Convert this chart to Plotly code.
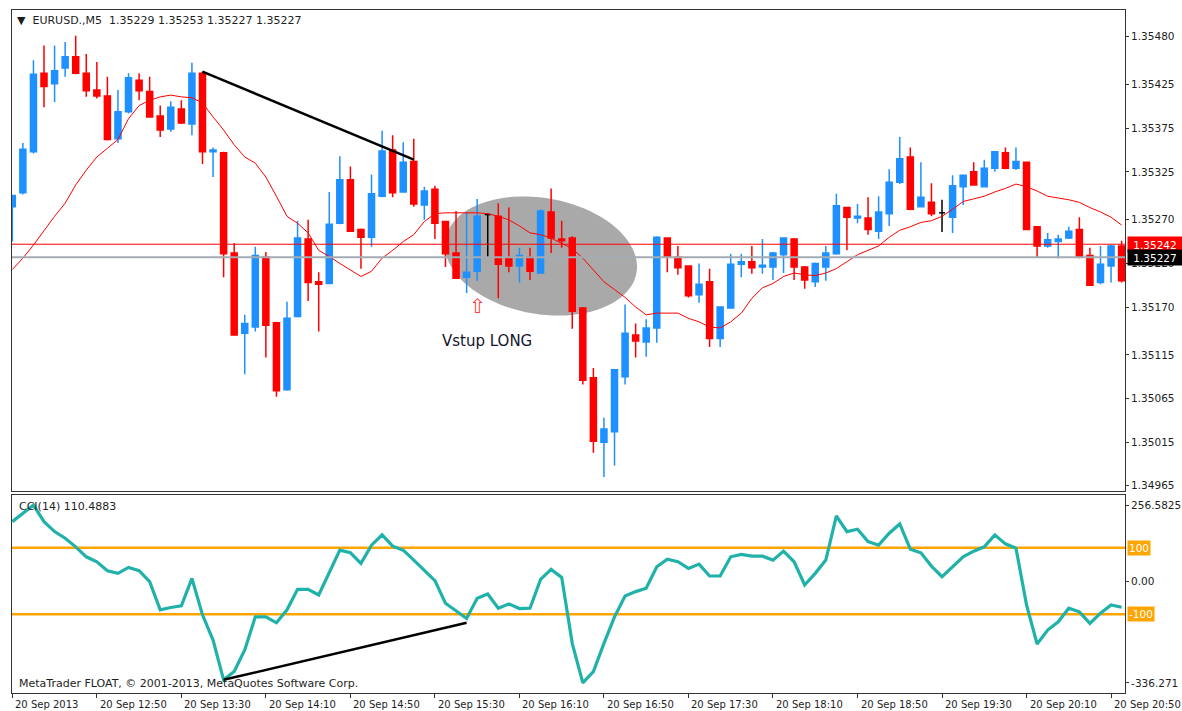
import numpy as np
import plotly.graph_objects as go

# ---------------- data (EURUSD M5, 20 Sep 2013, 12:10 .. 20:55) ----------------
bar_no = list(range(106))

open_ = [1.35285, 1.35301, 1.35348, 1.35438, 1.35426, 1.35444, 1.35457, 1.35438, 1.35419, 1.35412,
         1.35363, 1.35394, 1.35430, 1.35417, 1.35389, 1.35374, 1.35397, 1.35380, 1.35438, 1.35348,
         1.35347, 1.35232, 1.35140, 1.35147, 1.35227, 1.35152, 1.35075, 1.35159, 1.35248, 1.35199,
         1.35197, 1.35266, 1.35316, 1.35259, 1.35250, 1.35297, 1.35350, 1.35302, 1.35337, 1.35287,
         1.35305, 1.35268, 1.35232, 1.35204, 1.35211, 1.35276, 1.35274, 1.35226, 1.35217, 1.35227,
         1.35209, 1.35279, 1.35248, 1.35249, 1.35169, 1.35089, 1.35015, 1.35027, 1.35090, 1.35138,
         1.35130, 1.35146, 1.35249, 1.35227, 1.35217, 1.35184, 1.35199, 1.35134, 1.35169, 1.35219,
         1.35222, 1.35216, 1.35216, 1.35230, 1.35248, 1.35216, 1.35199, 1.35216, 1.35231, 1.35284,
         1.35272, 1.35272, 1.35257, 1.35277, 1.35313, 1.35342, 1.35285, 1.35290, 1.35278, 1.35273,
         1.35308, 1.35325, 1.35308, 1.35329, 1.35347, 1.35329, 1.35336, 1.35262, 1.35240, 1.35245,
         1.35249, 1.35259, 1.35229, 1.35198, 1.35217, 1.35240]
high = [1.35298, 1.35358, 1.35453, 1.35470, 1.35470, 1.35474, 1.35481, 1.35460, 1.35451, 1.35434,
        1.35419, 1.35438, 1.35438, 1.35434, 1.35401, 1.35406, 1.35407, 1.35450, 1.35440, 1.35353,
        1.35348, 1.35243, 1.35161, 1.35239, 1.35233, 1.35153, 1.35176, 1.35269, 1.35270, 1.35210,
        1.35302, 1.35343, 1.35331, 1.35260, 1.35322, 1.35372, 1.35367, 1.35359, 1.35363, 1.35308,
        1.35309, 1.35269, 1.35280, 1.35278, 1.35294, 1.35277, 1.35289, 1.35284, 1.35238, 1.35238,
        1.35282, 1.35306, 1.35269, 1.35251, 1.35170, 1.35100, 1.35043, 1.35099, 1.35173, 1.35151,
        1.35156, 1.35251, 1.35250, 1.35240, 1.35218, 1.35220, 1.35214, 1.35171, 1.35231, 1.35231,
        1.35240, 1.35248, 1.35233, 1.35250, 1.35249, 1.35217, 1.35221, 1.35240, 1.35300, 1.35285,
        1.35288, 1.35296, 1.35297, 1.35328, 1.35365, 1.35353, 1.35336, 1.35312, 1.35293, 1.35321,
        1.35322, 1.35336, 1.35339, 1.35349, 1.35353, 1.35353, 1.35337, 1.35263, 1.35255, 1.35253,
        1.35262, 1.35273, 1.35238, 1.35240, 1.35241, 1.35246]
low = [1.35245, 1.35299, 1.35346, 1.35399, 1.35405, 1.35434, 1.35437, 1.35411, 1.35409, 1.35361,
       1.35358, 1.35392, 1.35407, 1.35387, 1.35365, 1.35371, 1.35380, 1.35367, 1.35334, 1.35319,
       1.35204, 1.35137, 1.35093, 1.35142, 1.35112, 1.35067, 1.35074, 1.35158, 1.35177, 1.35142,
       1.35196, 1.35265, 1.35256, 1.35214, 1.35239, 1.35296, 1.35296, 1.35301, 1.35285, 1.35270,
       1.35248, 1.35216, 1.35202, 1.35186, 1.35200, 1.35227, 1.35180, 1.35210, 1.35198, 1.35201,
       1.35208, 1.35232, 1.35238, 1.35145, 1.35081, 1.35003, 1.34975, 1.34988, 1.35081, 1.35112,
       1.35113, 1.35129, 1.35210, 1.35207, 1.35181, 1.35175, 1.35124, 1.35124, 1.35168, 1.35204,
       1.35208, 1.35208, 1.35201, 1.35209, 1.35201, 1.35191, 1.35193, 1.35200, 1.35230, 1.35235,
       1.35266, 1.35253, 1.35248, 1.35263, 1.35311, 1.35281, 1.35284, 1.35274, 1.35256, 1.35255,
       1.35287, 1.35309, 1.35307, 1.35325, 1.35328, 1.35327, 1.35258, 1.35227, 1.35238, 1.35226,
       1.35248, 1.35226, 1.35194, 1.35196, 1.35198, 1.35198]
close = [1.35298, 1.35351, 1.35437, 1.35423, 1.35441, 1.35457, 1.35438, 1.35418, 1.35412, 1.35362,
         1.35394, 1.35433, 1.35418, 1.35388, 1.35373, 1.35399, 1.35381, 1.35438, 1.35348, 1.35350,
         1.35231, 1.35138, 1.35151, 1.35229, 1.35149, 1.35074, 1.35157, 1.35249, 1.35198, 1.35196,
         1.35265, 1.35316, 1.35257, 1.35250, 1.35300, 1.35349, 1.35301, 1.35336, 1.35288, 1.35303,
         1.35266, 1.35231, 1.35203, 1.35210, 1.35274, 1.35276, 1.35219, 1.35217, 1.35229, 1.35211,
         1.35280, 1.35249, 1.35246, 1.35165, 1.35086, 1.35016, 1.35030, 1.35098, 1.35140, 1.35131,
         1.35146, 1.35250, 1.35227, 1.35215, 1.35183, 1.35196, 1.35134, 1.35170, 1.35219, 1.35222,
         1.35215, 1.35218, 1.35232, 1.35249, 1.35216, 1.35201, 1.35220, 1.35232, 1.35286, 1.35273,
         1.35274, 1.35259, 1.35279, 1.35313, 1.35340, 1.35282, 1.35296, 1.35277, 1.35278, 1.35309,
         1.35321, 1.35310, 1.35329, 1.35348, 1.35329, 1.35337, 1.35259, 1.35240, 1.35247, 1.35248,
         1.35257, 1.35227, 1.35195, 1.35219, 1.35240, 1.35200]

ma = [1.35213, 1.35226, 1.35241, 1.35258, 1.35274, 1.35289, 1.35310, 1.35327, 1.35342, 1.35352,
      1.35362, 1.35386, 1.35401, 1.35407, 1.35411, 1.35413, 1.35411, 1.35410, 1.35404, 1.35388,
      1.35373, 1.35356, 1.35342, 1.35335, 1.35319, 1.35297, 1.35274, 1.35266, 1.35255, 1.35235,
      1.35228, 1.35220, 1.35212, 1.35205, 1.35211, 1.35226, 1.35235, 1.35245, 1.35253, 1.35268,
      1.35277, 1.35278, 1.35278, 1.35278, 1.35278, 1.35277, 1.35274, 1.35270, 1.35263, 1.35255,
      1.35253, 1.35249, 1.35243, 1.35237, 1.35226, 1.35212, 1.35199, 1.35190, 1.35181, 1.35170,
      1.35161, 1.35163, 1.35163, 1.35163, 1.35157, 1.35153, 1.35147, 1.35146, 1.35153, 1.35163,
      1.35180, 1.35192, 1.35197, 1.35205, 1.35209, 1.35207, 1.35206, 1.35209, 1.35214, 1.35222,
      1.35230, 1.35235, 1.35240, 1.35250, 1.35258, 1.35262, 1.35267, 1.35269, 1.35274, 1.35282,
      1.35291, 1.35294, 1.35297, 1.35302, 1.35306, 1.35311, 1.35308, 1.35303, 1.35297, 1.35295,
      1.35293, 1.35290, 1.35284, 1.35279, 1.35273, 1.35264]

cci = [179, 204, 229, 179, 149, 129, 103, 73, 58, 31,
       23, 41, 31, -2, -87, -80, -75, 8, -102, -178,
       -298, -273, -208, -108, -108, -126, -87, -25, -25, -42,
       23, 93, 85, 53, 108, 139, 105, 93, 63, 33,
       1, -67, -89, -113, -52, -39, -82, -69, -83, -82,
       5, 35, 11, -188, -307, -273, -188, -108, -45, -32,
       -22, 43, 66, 58, 38, 51, 15, 15, 73, 80,
       75, 75, 63, 90, 58, -12, 23, 63, 196, 149,
       156, 119, 108, 144, 172, 96, 85, 45, 13, 43,
       73, 90, 103, 139, 112, 99, -72, -190, -148, -123,
       -82, -93, -128, -97, -72, -79]

time_label_bars = [0, 8, 16, 24, 32, 40, 48, 56, 64, 72, 80, 88, 96, 104]
time_labels = ["20 Sep 2013", "20 Sep 12:50", "20 Sep 13:30", "20 Sep 14:10", "20 Sep 14:50",
               "20 Sep 15:30", "20 Sep 16:10", "20 Sep 16:50", "20 Sep 17:30", "20 Sep 18:10",
               "20 Sep 18:50", "20 Sep 19:30", "20 Sep 20:10", "20 Sep 20:50"]
price_ticks = [1.35480, 1.35425, 1.35375, 1.35325, 1.35270, 1.35220,
               1.35170, 1.35115, 1.35065, 1.35015, 1.34965]
line_red_price = 1.35242
bid_price = 1.35227
trend_main = [(18, 1.35440), (38, 1.35339)]
trend_cci = [(20, -298), (43, -126)]
cci_levels = [100, -100]

BLUE = "#1E90FF"
RED = "#FF0000"
TEAL = "#20B2AA"
ORANGE = "#FFA500"
TXT = "#1e1e1e"
FONT = "DejaVu Sans"
FS = 10.5

fig = go.Figure()

# ---------- ellipse highlight (rotated) ----------
cb, cp = 50.04, 1.352285
px_bar, px_price = 10.565, 87200.0
a, b, th = 97.0, 58.0, np.radians(10)
t = np.linspace(0, 2 * np.pi, 90)
dx = a * np.cos(t) * np.cos(th) - b * np.sin(t) * np.sin(th)
dy = a * np.cos(t) * np.sin(th) + b * np.sin(t) * np.cos(th)
ex = cb + dx / px_bar
ey = cp - dy / px_price
path = "M " + " L ".join(f"{xx:.4f},{yy:.6f}" for xx, yy in zip(ex, ey)) + " Z"
fig.add_shape(type="path", path=path, xref="x", yref="y", fillcolor="#A9A9A9",
              line=dict(width=0), layer="below")

# ---------- candles ----------
idx = [i for i in bar_no if open_[i] != close[i]]
doji = [i for i in bar_no if open_[i] == close[i]]
fig.add_trace(go.Candlestick(
    x=idx, open=[open_[i] for i in idx], high=[high[i] for i in idx],
    low=[low[i] for i in idx], close=[close[i] for i in idx],
    increasing=dict(line=dict(color=BLUE, width=1.5), fillcolor=BLUE),
    decreasing=dict(line=dict(color=RED, width=1.5), fillcolor=RED),
    whiskerwidth=0, showlegend=False, hoverinfo="skip", xaxis="x", yaxis="y"))
dx_, dy_ = [], []
for i in doji:
    dx_ += [i, i, None, i - 0.28, i + 0.28, None]
    dy_ += [high[i], low[i], None, open_[i], open_[i], None]
fig.add_trace(go.Scatter(x=dx_, y=dy_, mode="lines", line=dict(color="black", width=1.5),
                         showlegend=False, hoverinfo="skip", xaxis="x", yaxis="y"))

# MA line
fig.add_trace(go.Scatter(x=bar_no, y=ma, mode="lines", line=dict(color=RED, width=1),
                         showlegend=False, hoverinfo="skip", xaxis="x", yaxis="y"))

# horizontal lines
fig.add_shape(type="line", xref="x domain", x0=0, x1=1, yref="y", y0=bid_price, y1=bid_price,
              line=dict(color="#A3ABB3", width=2))
fig.add_shape(type="line", xref="x domain", x0=0, x1=1, yref="y", y0=line_red_price, y1=line_red_price,
              line=dict(color=RED, width=1))
# main trend line
fig.add_shape(type="line", xref="x", yref="y", x0=trend_main[0][0], y0=trend_main[0][1],
              x1=trend_main[1][0], y1=trend_main[1][1], line=dict(color="black", width=2.5))

# ---------- CCI panel ----------
for lv in cci_levels:
    fig.add_shape(type="line", xref="x2 domain", x0=0, x1=1, yref="y2", y0=lv, y1=lv,
                  line=dict(color=ORANGE, width=2.5), layer="below")
fig.add_trace(go.Scatter(x=bar_no, y=cci, mode="lines", line=dict(color=TEAL, width=3.2),
                         showlegend=False, hoverinfo="skip", xaxis="x2", yaxis="y2"))
fig.add_shape(type="line", xref="x2", yref="y2", x0=trend_cci[0][0], y0=trend_cci[0][1],
              x1=trend_cci[1][0], y1=trend_cci[1][1], line=dict(color="black", width=2.5))

# ---------- layout ----------
W, H = 1182, 711
ml, mr, mt, mb = 12, 57, 10, 18
ph = H - mt - mb
main_dom = [(H - mb - 491) / ph, 1]
cci_dom = [0, (H - mb - 495) / ph]

def py(pix):
    return (H - mb - pix) / ph

def px(pix):
    return (pix - ml) / (W - ml - mr)

axis_common = dict(showgrid=False, zeroline=False, showline=True, mirror=True,
                   linecolor="#333333", linewidth=1, automargin=False)
fig.update_layout(
    width=W, height=H, autosize=False,
    margin=dict(l=ml, r=mr, t=mt, b=mb, pad=0, autoexpand=False),
    paper_bgcolor="white", plot_bgcolor="white",
    font=dict(family=FONT, size=FS, color=TXT),
    boxgap=0.43, boxgroupgap=0, showlegend=False,
    xaxis=dict(domain=[0, 1], anchor="y", range=[-0.03, 105.32], showticklabels=False,
               ticks="", rangeslider=dict(visible=False), **axis_common),
    xaxis2=dict(domain=[0, 1], anchor="y2", matches="x", range=[-0.03, 105.32],
                showticklabels=False, tickmode="array", tickvals=time_label_bars,
                ticks="outside", ticklen=4, tickcolor="#333333",
                rangeslider=dict(visible=False), **axis_common),
    yaxis=dict(domain=main_dom, anchor="x", side="right", range=[1.349590, 1.355106],
               tickmode="array", tickvals=price_ticks,
               ticktext=[f"{v:.5f}" for v in price_ticks], ticks="outside", ticklen=3,
               tickcolor="#333333", tickfont=dict(size=FS, family=FONT, color=TXT), **axis_common),
    yaxis2=dict(domain=cci_dom, anchor="x2", side="right", range=[-337.7, 259.3],
                tickmode="array", tickvals=[229, 0, -307.5],
                ticktext=["256.5825", "0.00", "-336.271"], ticks="outside", ticklen=3,
                tickcolor="#333333", tickfont=dict(size=FS, family=FONT, color=TXT), **axis_common),
)

ann = []
# time labels
for bidx, lab in zip(time_label_bars, time_labels):
    ann.append(dict(x=bidx, xref="x2", y=py(704), yref="paper", text=lab, showarrow=False,
                    xanchor="left", yanchor="middle", xshift=1, font=dict(size=10)))
# title
ann.append(dict(x=px(15), xref="paper", y=py(20.5), yref="paper",
                text="\u25bc\u00a0\u00a0EURUSD.,M5\u00a0\u00a01.35229 1.35253 1.35227 1.35227",
                showarrow=False, xanchor="left", yanchor="middle", font=dict(size=11)))
ann.append(dict(x=px(17), xref="paper", y=py(506), yref="paper", text="CCI(14) 110.4883",
                showarrow=False, xanchor="left", yanchor="middle", font=dict(size=11)))
ann.append(dict(x=px(17), xref="paper", y=py(683), yref="paper",
                text="MetaTrader FLOAT, \u00a9 2001-2013, MetaQuotes Software Corp.",
                showarrow=False, xanchor="left", yanchor="middle", font=dict(size=11)))
# price boxes
ann.append(dict(x=1, xref="paper", y=line_red_price, yref="y", text="1.35242", showarrow=False,
                xanchor="left", yanchor="middle", xshift=2, bgcolor=RED, borderpad=1,
                width=52, height=13, align="center", font=dict(size=FS, color="white")))
ann.append(dict(x=1, xref="paper", y=bid_price, yref="y", text="1.35227", showarrow=False,
                xanchor="left", yanchor="middle", xshift=2, bgcolor="black", borderpad=1,
                width=52, height=13, align="center", font=dict(size=FS, color="white")))
for lv in cci_levels:
    ann.append(dict(x=1, xref="paper", y=lv, yref="y2", text=str(lv), showarrow=False,
                    xanchor="left", yanchor="middle", xshift=2, bgcolor=ORANGE, borderpad=1,
                    font=dict(size=FS, color="white")))
# signal annotations
ann.append(dict(x=44, xref="x", y=1.35171, yref="y", text="\u21e7", showarrow=False,
                font=dict(size=20, color="#FF3B3B")))
ann.append(dict(x=44.9, xref="x", y=1.35131, yref="y", text="Vstup LONG", showarrow=False,
                font=dict(size=15, color="#15152a")))
fig.update_layout(annotations=ann)

fig.write_html("out.html", config={"displayModeBar": False},
               post_script="document.body.style.margin='0';document.body.style.overflow='hidden';")
